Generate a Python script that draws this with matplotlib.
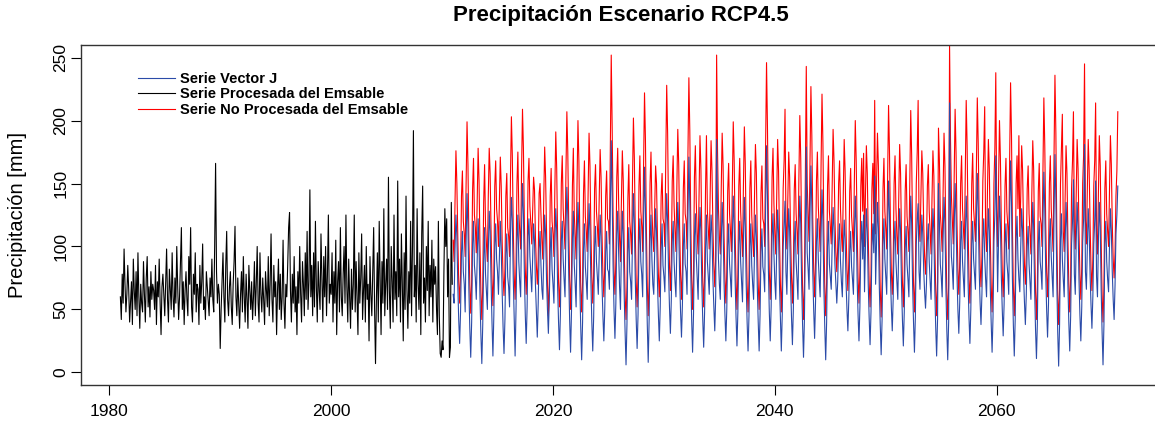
import matplotlib
matplotlib.use("Agg")
import matplotlib.pyplot as plt
import numpy as np

plt.rcParams['font.family'] = ['Liberation Sans', 'DejaVu Sans']

# monthly values, one row per year
black_start = 1981
black_rows = [
    [60, 42, 78, 55, 98, 70, 48, 62, 85, 66, 40, 57],
    [72, 38, 90, 65, 50, 80, 45, 95, 60, 35, 70, 55],
    [48, 88, 62, 40, 75, 92, 52, 68, 44, 80, 58, 70],
    [65, 50, 85, 38, 72, 60, 90, 55, 30, 68, 78, 62],
    [45, 70, 98, 58, 40, 82, 66, 50, 95, 60, 44, 75],
    [55, 100, 68, 42, 60, 88, 115, 50, 72, 38, 65, 80],
    [58, 45, 92, 70, 115, 52, 40, 78, 62, 95, 48, 70],
    [66, 38, 85, 55, 72, 102, 50, 60, 42, 80, 68, 55],
    [45, 75, 60, 90, 58, 48, 100, 166, 80, 55, 70, 62],
    [19, 50, 72, 95, 60, 40, 85, 112, 58, 45, 68, 80],
    [52, 38, 70, 88, 116, 60, 45, 75, 55, 35, 62, 80],
    [48, 92, 60, 40, 78, 58, 35, 85, 65, 50, 72, 42],
    [60, 88, 45, 70, 100, 55, 40, 95, 62, 48, 75, 58],
    [38, 80, 65, 52, 92, 45, 70, 110, 58, 40, 85, 60],
    [72, 30, 65, 90, 50, 78, 42, 60, 105, 55, 35, 70],
    [60, 85, 115, 127, 65, 40, 78, 55, 92, 48, 68, 30],
    [80, 55, 100, 62, 40, 88, 70, 45, 95, 58, 112, 50],
    [72, 145, 60, 85, 45, 95, 52, 120, 68, 40, 88, 65],
    [50, 110, 75, 40, 92, 60, 100, 45, 78, 125, 55, 70],
    [62, 95, 40, 80, 55, 105, 30, 72, 88, 48, 115, 60],
    [45, 78, 100, 55, 125, 68, 40, 90, 60, 35, 82, 50],
    [70, 125, 48, 88, 60, 30, 95, 55, 75, 110, 42, 65],
    [85, 40, 100, 58, 70, 25, 92, 62, 45, 80, 115, 50],
    [7, 60, 95, 40, 120, 75, 30, 88, 55, 130, 45, 70],
    [90, 50, 155, 65, 35, 100, 72, 40, 125, 58, 80, 45],
    [152, 60, 90, 40, 110, 70, 25, 95, 50, 140, 65, 35],
    [80, 55, 120, 45, 100, 192, 60, 85, 40, 130, 70, 50],
    [95, 30, 110, 148, 55, 75, 40, 100, 65, 120, 45, 85],
    [60, 105, 40, 90, 70, 84, 50, 30, 120, 45, 15, 12],
    [25, 18, 80, 130, 100, 122, 60, 90, 12, 20, 135, 70],
]

proj_start = 2011
blue_rows = [
    [62, 55, 98, 125, 108, 70, 42, 23, 48, 95, 112, 80],
    [70, 48, 105, 142, 115, 66, 35, 12, 40, 102, 120, 85],
    [75, 58, 90, 122, 100, 60, 30, 7, 38, 88, 115, 78],
    [64, 50, 96, 128, 112, 72, 40, 13, 45, 100, 118, 90],
    [80, 62, 92, 120, 98, 64, 36, 15, 42, 94, 110, 76],
    [68, 52, 110, 139, 120, 75, 44, 13, 50, 105, 125, 88],
    [72, 60, 115, 150, 126, 80, 46, 23, 52, 108, 122, 92],
    [78, 64, 90, 118, 104, 70, 48, 28, 55, 98, 112, 85],
    [66, 58, 94, 125, 110, 74, 50, 31, 58, 96, 115, 82],
    [70, 55, 100, 130, 112, 68, 40, 18, 46, 104, 120, 90],
    [74, 60, 112, 147, 125, 78, 42, 16, 48, 106, 128, 86],
    [70, 52, 104, 135, 114, 70, 36, 10, 40, 98, 118, 84],
    [72, 58, 102, 134, 112, 72, 40, 17, 44, 100, 116, 88],
    [76, 62, 95, 125, 108, 70, 45, 25, 50, 96, 112, 82],
    [80, 66, 130, 184, 140, 85, 50, 27, 55, 110, 128, 95],
    [68, 50, 98, 128, 110, 62, 32, 6, 38, 95, 115, 80],
    [72, 58, 108, 142, 118, 74, 42, 19, 46, 102, 122, 88],
    [78, 60, 120, 163, 130, 76, 38, 8, 42, 105, 125, 90],
    [70, 62, 98, 130, 112, 72, 46, 25, 52, 98, 118, 85],
    [76, 64, 108, 142, 120, 80, 52, 31, 58, 104, 120, 88],
    [72, 60, 100, 135, 114, 76, 48, 28, 54, 100, 118, 86],
    [80, 62, 125, 171, 135, 80, 42, 16, 46, 108, 126, 92],
    [74, 58, 100, 131, 112, 70, 42, 20, 48, 98, 125, 88],
    [76, 62, 98, 125, 110, 74, 52, 33, 60, 185, 130, 90],
    [70, 58, 102, 135, 115, 72, 46, 25, 50, 100, 118, 86],
    [74, 60, 106, 140, 118, 74, 44, 21, 48, 102, 120, 88],
    [72, 56, 104, 139, 116, 70, 40, 17, 45, 100, 118, 85],
    [70, 58, 96, 125, 108, 68, 40, 17, 46, 96, 114, 84],
    [78, 64, 130, 180, 140, 82, 48, 25, 52, 108, 126, 94],
    [72, 58, 98, 129, 110, 70, 42, 17, 46, 100, 118, 136],
    [80, 62, 100, 130, 112, 72, 44, 22, 50, 102, 120, 88],
    [74, 58, 108, 140, 118, 70, 38, 12, 42, 110, 179, 95],
    [82, 66, 125, 164, 132, 80, 50, 27, 56, 104, 122, 90],
    [74, 60, 110, 145, 120, 68, 36, 10, 40, 100, 120, 86],
    [76, 66, 102, 131, 115, 86, 70, 55, 72, 104, 118, 88],
    [72, 60, 94, 121, 106, 72, 50, 33, 58, 96, 112, 84],
    [74, 62, 106, 140, 118, 74, 46, 25, 52, 102, 120, 90],
    [125, 64, 100, 130, 112, 70, 44, 22, 48, 100, 118, 95],
    [156, 70, 104, 135, 115, 68, 38, 14, 42, 102, 122, 90],
    [76, 62, 115, 152, 125, 78, 52, 33, 58, 104, 120, 88],
    [72, 58, 100, 130, 112, 70, 42, 21, 48, 98, 116, 86],
    [74, 60, 106, 140, 118, 70, 40, 16, 44, 102, 122, 134],
    [80, 66, 98, 125, 110, 82, 64, 51, 70, 104, 118, 88],
    [72, 58, 100, 130, 112, 66, 36, 13, 42, 150, 120, 86],
    [76, 60, 106, 139, 118, 68, 34, 10, 40, 214, 130, 92],
    [82, 66, 115, 150, 124, 78, 50, 31, 56, 104, 120, 88],
    [74, 60, 106, 140, 118, 72, 44, 23, 50, 102, 120, 90],
    [78, 66, 120, 158, 130, 82, 56, 38, 62, 106, 122, 92],
    [74, 60, 100, 130, 112, 68, 40, 16, 44, 104, 125, 172],
    [120, 64, 106, 140, 118, 76, 50, 29, 54, 102, 118, 88],
    [78, 62, 125, 168, 135, 74, 38, 13, 42, 106, 124, 90],
    [74, 64, 100, 130, 112, 78, 56, 38, 62, 100, 116, 86],
    [72, 58, 102, 135, 115, 66, 34, 11, 40, 102, 120, 88],
    [80, 66, 118, 159, 130, 80, 50, 28, 54, 106, 122, 92],
    [76, 60, 125, 173, 138, 72, 32, 5, 38, 106, 126, 90],
    [74, 60, 102, 135, 115, 70, 40, 17, 45, 102, 120, 153],
    [78, 62, 104, 135, 116, 74, 46, 25, 52, 104, 122, 181],
    [80, 66, 100, 130, 112, 78, 54, 35, 60, 102, 120, 152],
    [76, 60, 104, 135, 115, 66, 32, 6, 38, 102, 120, 88],
    [74, 64, 100, 130, 112, 80, 58, 42, 69, 110, 125, 148],
]

red_rows = [
    [105, 88, 135, 176, 150, 108, 72, 55, 78, 140, 160, 120],
    [110, 92, 150, 199, 165, 105, 70, 47, 72, 145, 170, 125],
    [115, 95, 138, 178, 152, 100, 64, 42, 68, 135, 165, 118],
    [102, 88, 140, 178, 158, 112, 75, 53, 78, 148, 168, 130],
    [120, 100, 135, 171, 148, 104, 76, 61, 82, 140, 158, 115],
    [108, 92, 155, 203, 172, 115, 78, 58, 85, 150, 175, 128],
    [112, 98, 160, 209, 178, 120, 82, 62, 88, 152, 170, 132],
    [118, 102, 130, 155, 145, 108, 85, 70, 90, 142, 150, 125],
    [104, 90, 138, 179, 155, 110, 70, 45, 72, 140, 162, 120],
    [110, 92, 145, 191, 162, 106, 72, 52, 76, 150, 172, 130],
    [114, 98, 158, 207, 175, 118, 74, 50, 78, 148, 178, 126],
    [108, 90, 150, 200, 168, 108, 68, 48, 72, 142, 168, 124],
    [112, 96, 146, 190, 164, 112, 76, 55, 80, 146, 165, 128],
    [116, 100, 138, 177, 155, 110, 78, 60, 84, 140, 160, 122],
    [120, 102, 180, 252, 195, 125, 82, 62, 88, 155, 178, 135],
    [106, 88, 136, 176, 152, 100, 62, 42, 68, 138, 165, 120],
    [110, 94, 152, 202, 170, 112, 72, 52, 78, 148, 172, 128],
    [116, 96, 165, 222, 185, 115, 68, 45, 74, 150, 175, 130],
    [108, 96, 132, 164, 150, 108, 78, 60, 84, 140, 158, 122],
    [118, 100, 170, 228, 190, 125, 85, 65, 90, 152, 172, 132],
    [112, 96, 148, 193, 165, 114, 78, 58, 82, 146, 168, 126],
    [120, 98, 175, 234, 192, 120, 74, 50, 78, 155, 180, 135],
    [110, 94, 144, 188, 162, 108, 72, 52, 78, 145, 188, 128],
    [114, 98, 142, 184, 160, 115, 85, 68, 92, 252, 175, 130],
    [108, 94, 146, 190, 164, 110, 76, 55, 80, 144, 166, 126],
    [112, 96, 150, 199, 168, 112, 74, 50, 78, 148, 170, 128],
    [110, 92, 148, 195, 166, 108, 70, 48, 74, 146, 168, 125],
    [106, 92, 140, 181, 158, 106, 70, 50, 76, 142, 164, 122],
    [118, 100, 180, 246, 195, 122, 80, 58, 85, 155, 178, 134],
    [110, 94, 142, 185, 160, 108, 70, 48, 76, 146, 168, 209],
    [120, 98, 138, 175, 155, 110, 76, 55, 80, 145, 165, 126],
    [112, 94, 154, 204, 170, 106, 66, 42, 70, 160, 243, 150],
    [125, 104, 168, 227, 188, 122, 82, 60, 88, 152, 175, 132],
    [114, 96, 165, 221, 182, 112, 68, 45, 72, 148, 172, 128],
    [116, 102, 148, 193, 168, 122, 95, 80, 100, 150, 168, 130],
    [110, 96, 142, 185, 160, 114, 82, 65, 88, 144, 162, 124],
    [112, 96, 152, 200, 168, 114, 76, 55, 80, 148, 170, 128],
    [174, 100, 140, 180, 158, 108, 72, 52, 78, 146, 166, 126],
    [216, 110, 150, 190, 164, 106, 66, 44, 72, 146, 170, 128],
    [114, 98, 158, 212, 176, 118, 80, 62, 86, 150, 172, 130],
    [108, 94, 140, 181, 158, 108, 72, 52, 78, 144, 165, 124],
    [112, 96, 154, 208, 172, 110, 70, 48, 76, 150, 175, 216],
    [118, 104, 138, 176, 158, 118, 92, 78, 98, 148, 165, 128],
    [110, 94, 138, 176, 156, 104, 66, 45, 72, 194, 168, 126],
    [114, 96, 146, 190, 164, 106, 64, 42, 70, 260, 185, 140],
    [120, 102, 156, 209, 175, 120, 82, 62, 88, 150, 172, 130],
    [114, 98, 160, 216, 180, 116, 76, 55, 82, 150, 174, 130],
    [118, 104, 162, 218, 182, 122, 86, 68, 92, 152, 175, 211],
    [112, 96, 144, 185, 162, 108, 70, 48, 76, 150, 178, 238],
    [130, 100, 152, 200, 170, 116, 80, 60, 86, 148, 170, 128],
    [116, 98, 170, 230, 188, 114, 68, 45, 72, 150, 172, 130],
    [188, 108, 140, 180, 160, 116, 86, 70, 94, 146, 164, 126],
    [110, 94, 142, 184, 160, 104, 64, 42, 70, 144, 166, 124],
    [118, 100, 162, 218, 180, 118, 80, 60, 86, 150, 172, 130],
    [114, 96, 172, 236, 190, 112, 62, 38, 66, 150, 176, 205],
    [112, 96, 140, 180, 158, 106, 70, 48, 76, 146, 168, 207],
    [114, 98, 144, 185, 162, 112, 78, 58, 84, 150, 172, 245],
    [120, 102, 144, 185, 162, 118, 84, 65, 90, 148, 168, 214],
    [110, 94, 144, 188, 164, 104, 62, 40, 68, 146, 168, 126],
    [112, 100, 146, 188, 165, 118, 90, 75, 95, 140, 160, 207],
]

black = np.array(black_rows, dtype=float).ravel()
blue = np.array(blue_rows, dtype=float).ravel()
red = np.array(red_rows, dtype=float).ravel()
t_black = black_start + np.arange(len(black)) / 12
t_proj = proj_start + np.arange(len(blue)) / 12

fig = plt.figure(figsize=(11.55, 4.24), dpi=100)
ax = fig.add_axes([81 / 1155, 1 - 385 / 424, 1076 / 1155, 340 / 424])

ax.plot(t_black, black, color='black', lw=0.8, label='Serie Procesada del Emsable')
ax.plot(t_proj, red, color='#ff0000', lw=0.8, label='Serie No Procesada del Emsable')
ax.plot(t_proj, blue, color='#2b4ba8', lw=0.8, label='Serie Vector J')

ax.set_xlim(1977.45, 2074.45)
ax.set_ylim(-10, 260)
ax.set_xticks([1980, 2000, 2020, 2040, 2060])
ax.set_yticks([0, 50, 100, 150, 200, 250])
ax.tick_params(axis='both', direction='out', length=7, width=0.8, labelsize=12.5)
ax.tick_params(axis='x', pad=7)
ax.tick_params(axis='y', pad=2)
for lab in ax.get_yticklabels():
    lab.set_rotation(90)
    lab.set_va('center')
for s in ax.spines.values():
    s.set_linewidth(1.0)
    s.set_color('#333333')

ax.set_ylabel('Precipitación [mm]', fontsize=14.5)
ax.yaxis.set_label_coords(-0.05, 0.5)
fig.text(621 / 1155, 1 - 16 / 424, 'Precipitación Escenario RCP4.5',
         ha='center', va='center', fontsize=16, fontweight='bold')

h, l = ax.get_legend_handles_labels()
order = [2, 0, 1]
leg = ax.legend([h[i] for i in order], [l[i] for i in order],
                loc='upper left', bbox_to_anchor=(138 / 1155, 1 - 72 / 424),
                bbox_transform=fig.transFigure, frameon=False,
                handlelength=2.55, handletextpad=0.35, labelspacing=0.1,
                borderpad=0, borderaxespad=0,
                prop={'size': 10.5, 'weight': 'bold'})

fig.savefig('out.png', dpi=100)
